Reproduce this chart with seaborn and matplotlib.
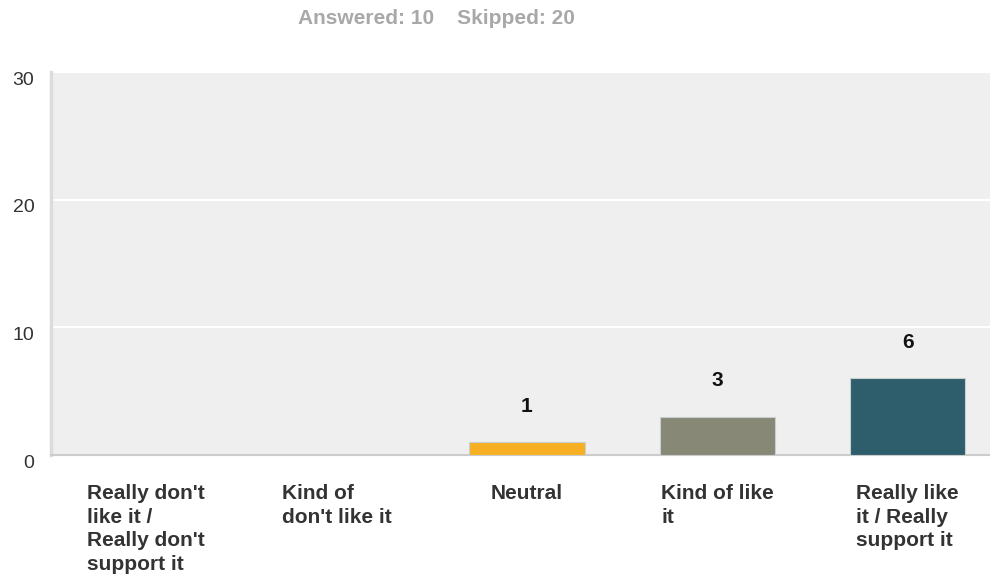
import matplotlib
matplotlib.use("Agg")
import matplotlib.pyplot as plt
import matplotlib.transforms as mtransforms
import seaborn as sns

# survey answers
categories = [
    "Really don't\nlike it /\nReally don't\nsupport it",
    "Kind of\ndon't like it",
    "Neutral",
    "Kind of like\nit",
    "Really like\nit / Really\nsupport it",
]
counts = [0, 0, 1, 3, 6]
bar_colors = ["#b0b0b0", "#999999", "#f7b023", "#888877", "#2e5e6b"]
y_ticks = [0, 10, 20, 30]
header = "Answered: 10    Skipped: 20"

sns.set_style("white")
plt.rcParams["font.family"] = ["Liberation Sans", "DejaVu Sans"]

fig = plt.figure(figsize=(9.9, 5.77), dpi=100)
ax = fig.add_axes([51 / 990, 122 / 577, 952 / 990, 383 / 577])
ax.set_facecolor("#efefef")

sns.barplot(x=categories, y=counts, hue=categories, palette=bar_colors,
            legend=False, width=0.605, edgecolor="#c8cfcf", linewidth=0.8,
            saturation=1, ax=ax, zorder=3)

ax.set_xlim(-0.5, 4.5)
ax.set_ylim(0, 30)
ax.set_yticks(y_ticks)
ax.yaxis.grid(True, color="white", linewidth=1.5, zorder=1)
ax.set_axisbelow(True)
ax.set_xlabel("")
ax.set_ylabel("")

for side in ["top", "right"]:
    ax.spines[side].set_visible(False)
ax.spines["left"].set_color("#dcdcdc")
ax.spines["left"].set_linewidth(2.5)
ax.spines["bottom"].set_color("#cccccc")
ax.spines["bottom"].set_linewidth(1.5)

ax.tick_params(axis="y", length=0, pad=12, labelsize=14, labelcolor="#333333")
ax.tick_params(axis="x", length=0, pad=21, labelsize=15, labelcolor="#333333")

shift = mtransforms.ScaledTranslation(0, -6 / 100, fig.dpi_scale_trans)
for lbl in ax.get_yticklabels():
    lbl.set_transform(lbl.get_transform() + shift)
for lbl in ax.get_xticklabels():
    lbl.set_fontweight("bold")
    lbl.set_multialignment("left")
    lbl.set_verticalalignment("top")
    lbl.set_linespacing(1.31)

# value labels above non-empty bars
for cont in ax.containers:
    labels = [str(int(b.get_height())) if b.get_height() > 0 else "" for b in cont]
    ax.bar_label(cont, labels=labels, padding=19, fontsize=15, fontweight="bold",
                 color="#111111")

fig.text(436 / 990, 1 - 19 / 577, header, ha="center", va="center",
         fontsize=15, fontweight="bold", color="#a8a8a8")

fig.savefig("out.png", dpi=100)
